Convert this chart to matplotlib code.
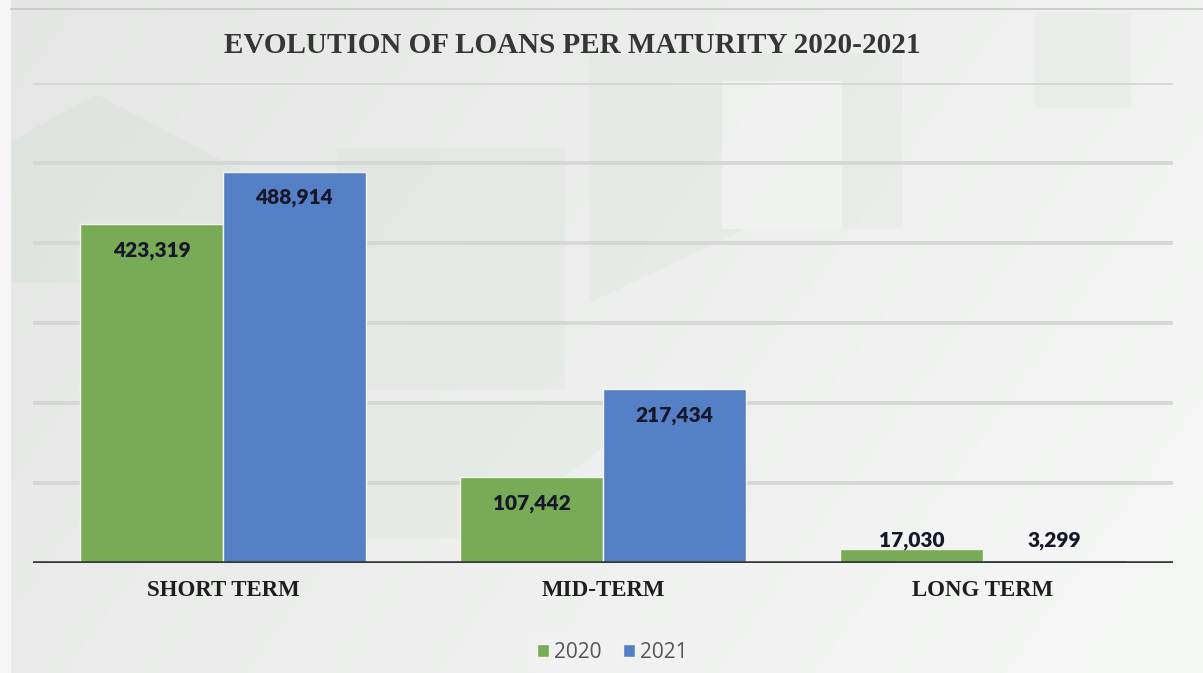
import matplotlib
matplotlib.use("Agg")
import matplotlib.pyplot as plt
import numpy as np
from matplotlib.patches import Polygon, Rectangle

categories = ["SHORT TERM", "MID-TERM", "LONG TERM"]
years = ["2020", "2021"]
loans_2020 = [423319, 107442, 17030]
loans_2021 = [488914, 217434, 3299]

GREEN = "#79AB57"
BLUE = "#5680C6"
GRID = "#D6D8D6"
INK = "#16182A"

fig = plt.figure(figsize=(12.03, 6.73), dpi=100)

# fondo: degradado gris claro con formas verdes muy tenues
bg = fig.add_axes([0, 0, 1, 1], zorder=0)
bg.set_xlim(0, 1)
bg.set_ylim(0, 1)
bg.axis("off")
gx, gy = np.meshgrid(np.linspace(0, 1, 200), np.linspace(0, 1, 120))
shade = 0.895 + 0.05 * gx + 0.02 * gy
shade = np.clip(shade, 0, 0.96)
img = np.dstack([shade, shade + 0.005, shade])
bg.imshow(np.clip(img, 0, 1), extent=(0, 1, 0, 1), aspect="auto", zorder=0)

tint = "#7FB07A"
shapes = [
    [(0.49, 0.92), (0.75, 0.92), (0.75, 0.66), (0.62, 0.66), (0.49, 0.55)],
    [(0.28, 0.78), (0.47, 0.78), (0.47, 0.42), (0.28, 0.42)],
    [(0.0, 0.78), (0.08, 0.86), (0.25, 0.70), (0.18, 0.58), (0.0, 0.58)],
    [(0.30, 0.40), (0.55, 0.40), (0.40, 0.20), (0.20, 0.20)],
    [(0.86, 0.98), (0.94, 0.98), (0.94, 0.84), (0.86, 0.84)],
]
for pts in shapes:
    bg.add_patch(Polygon(pts, closed=True, facecolor=tint, alpha=0.05,
                         edgecolor="none", zorder=1))
bg.add_patch(Rectangle((0.60, 0.66), 0.10, 0.22, facecolor="#F4F5F4",
                       alpha=0.7, edgecolor="none", zorder=2))
bg.add_patch(Rectangle((0.0, 0.0), 0.009, 1.0, facecolor="#F6F6F6",
                       edgecolor="none", zorder=2))
bg.plot([0.009, 1.0], [0.986, 0.986], color="#C8C8C8", lw=1.2, zorder=3)

ax = fig.add_axes([0.0274, 0.1634, 0.9476, 0.7133], zorder=1)
ax.patch.set_alpha(0)
for s in ax.spines.values():
    s.set_visible(False)

x = np.arange(len(categories))
w = 0.376
b1 = ax.bar(x - w / 2, loans_2020, width=w, color=GREEN, edgecolor="#F2F6EE",
            linewidth=1.0, label=years[0], zorder=3)
b2 = ax.bar(x + w / 2, loans_2021, width=w, color=BLUE, edgecolor="#F2F6EE",
            linewidth=1.0, label=years[1], zorder=3)

ax.set_xlim(-0.5, 2.5)
ax.set_ylim(0, 600000)
ax.set_yticks(np.arange(100000, 600001, 100000))
ax.yaxis.grid(True, color=GRID, linewidth=2.8, zorder=0)
ax.set_axisbelow(True)
ax.tick_params(axis="y", length=0, labelleft=False)
ax.axhline(0, color="#383838", linewidth=2.6, zorder=4)

ax.set_xticks(x)
ax.set_xticklabels(categories, family="Liberation Serif", fontweight="bold",
                   fontsize=16.5, color="#1E1E1E")
ax.tick_params(axis="x", length=0, pad=12)

# etiquetas de valor: dentro del extremo si cabe, encima si la barra es baja
for bars in (b1, b2):
    for r in bars:
        v = r.get_height()
        cx = r.get_x() + r.get_width() / 2
        if v > 60000:
            xy, off = (cx, v), (0, -26)
        else:
            xy, off = (cx, 0), (0, 23)
        ax.annotate(f"{v:,.0f}", xy=xy, xytext=off,
                    textcoords="offset pixels", ha="center", va="center",
                    family="Lato", fontweight="heavy", fontsize=15,
                    color=INK, zorder=5)

fig.text(0.476, 0.933, "EVOLUTION OF LOANS PER MATURITY 2020-2021",
         family="Liberation Serif", fontweight="bold", fontsize=21,
         color="#363636", ha="center", va="center")

leg = fig.legend(handles=[b1, b2], loc="center", bbox_to_anchor=(0.509, 0.031),
                 ncol=2, frameon=True, handlelength=0.6,
                 handleheight=0.6, handletextpad=0.25, columnspacing=1.0,
                 borderpad=0.45, prop={"family": "Open Sans", "size": 15})
leg.get_frame().set_facecolor("#F1F2F1")
leg.get_frame().set_edgecolor("none")
leg.get_frame().set_alpha(0.9)
for t in leg.get_texts():
    t.set_color("#555555")

fig.savefig("out.png", dpi=100)
